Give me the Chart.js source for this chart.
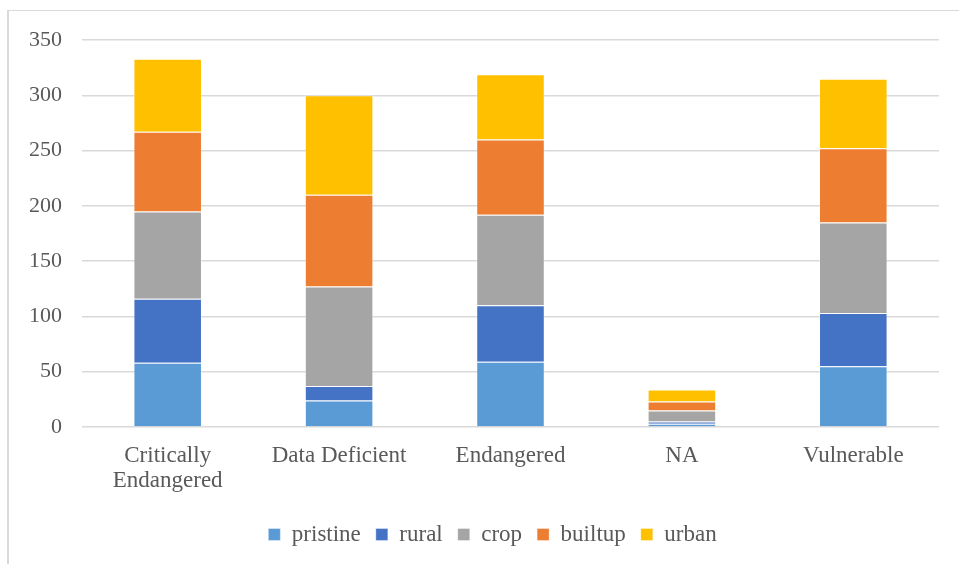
<!DOCTYPE html>
<html>
<head>
<meta charset="utf-8">
<script src="https://cdn.jsdelivr.net/npm/chart.js@4.4.1/dist/chart.umd.min.js"></script>
<style>
  html, body { margin: 0; padding: 0; background: #ffffff; }
  #wrap { position: relative; width: 959px; height: 564px; overflow: hidden; }
  #frame { position: absolute; left: 7px; top: 10px; width: 980px; height: 600px;
           border-top: 1px solid #d9d9d9; border-left: 2px solid #d9d9d9; pointer-events: none; }
  canvas { position: absolute; left: 0; top: 0; }
</style>
</head>
<body>
<div id="wrap">
  <canvas id="chart" width="959" height="564"></canvas>
  <div id="frame"></div>
</div>
<script>
// Red List categories and the count of species per habitat class
const categories = [["Critically", "Endangered"], "Data Deficient", "Endangered", "NA", "Vulnerable"];
const pristine = [58, 24, 59, 3, 55];
const rural    = [58, 13, 51, 2, 48];
const crop     = [79, 90, 82, 10, 82];
const builtup  = [72, 83, 68, 8, 67];
const urban    = [66, 90, 59, 11, 63];
const yTicks   = [0, 50, 100, 150, 200, 250, 300, 350];

const serif = "'Liberation Serif', 'Times New Roman', serif";
const textColor = "#595959";

function series(label, data, color) {
  return {
    label: label,
    data: data,
    backgroundColor: color,
    borderColor: "rgba(255,255,255,0.35)",
    borderWidth: 1,
    barPercentage: 0.4,
    categoryPercentage: 1.0
  };
}

// nudge the bottom legend to sit under the plot area rather than the whole canvas
const legendOffset = {
  id: "legendOffset",
  afterUpdate(chart) {
    const lg = chart.legend;
    if (lg) { lg.left += 23; lg.right += 23; }
  }
};

new Chart(document.getElementById("chart"), {
  type: "bar",
  data: {
    labels: categories,
    datasets: [
      series("pristine", pristine, "#5B9BD5"),
      series("rural", rural, "#4472C4"),
      series("crop", crop, "#A5A5A5"),
      series("builtup", builtup, "#ED7D31"),
      series("urban", urban, "#FFC000")
    ]
  },
  plugins: [legendOffset],
  options: {
    responsive: false,
    animation: false,
    layout: { padding: { left: 0, right: 20, top: 40, bottom: 8 } },
    plugins: {
      tooltip: { enabled: false },
      legend: {
        position: "bottom",
        labels: {
          font: { family: serif, size: 23 },
          color: textColor,
          boxWidth: 12,
          boxHeight: 12,
          padding: 15
        }
      }
    },
    scales: {
      x: {
        stacked: true,
        afterFit: function (scale) { scale.height = 81; },
        grid: { display: false, drawTicks: false },
        border: { display: false },
        ticks: {
          color: textColor,
          font: { family: serif, size: 23, lineHeight: 1.09 },
          padding: 16,
          maxRotation: 0,
          autoSkip: false
        }
      },
      y: {
        stacked: true,
        min: 0,
        max: 350,
        afterFit: function (scale) { scale.width = 82; },
        afterBuildTicks: function (scale) { scale.ticks = yTicks.map(v => ({ value: v })); },
        grid: { color: "#d9d9d9", lineWidth: 1.5, drawTicks: false },
        border: { display: false },
        ticks: {
          color: textColor,
          font: { family: serif, size: 22 },
          padding: 20
        }
      }
    }
  }
});
</script>
</body>
</html>
